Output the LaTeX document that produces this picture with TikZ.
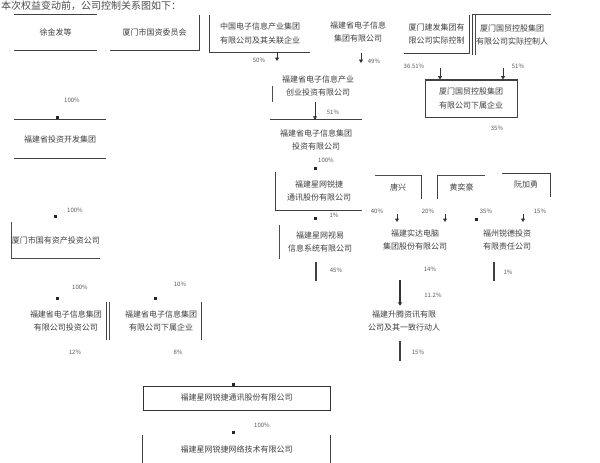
\documentclass[tikz,border=0pt]{standalone}
\usepackage{fontspec}
\newfontfamily\cjk{Noto Sans CJK SC}
\usetikzlibrary{arrows.meta}
\begin{document}
\begin{tikzpicture}[x=1pt,y=-1pt,
  txt/.style={font=\cjk\fontsize{8}{13.5}\selectfont,text=black!75,align=center,inner sep=0pt},
  box/.style={txt,minimum width=#1},
  lab/.style={font=\cjk\fontsize{6}{7}\selectfont,text=black!65,inner sep=0pt},
  edge/.style={line width=1.3pt,draw=black!75},
  thin/.style={line width=0.9pt,draw=black!70},
  arr/.style={line width=0.8pt,draw=black!80,-{Triangle[width=4pt,length=3.5pt]}},
  dot/.style={fill=black!85,inner sep=0pt,minimum size=3pt}]
\useasboundingbox[fill=white] (0,0) rectangle (600,463);
% title
\node[anchor=base west,font=\cjk\fontsize{10}{11}\selectfont,text=black!70,inner sep=0pt] (title) at (1,9.5) {本次权益变动前，公司控制关系图如下：};
% ---------------- top row
\node[box=83,minimum height=35] (b1) at (55.5,32.5) {徐金发等};
\draw[edge] (b1.north west) -- (b1.north east) (b1.south west) -- (b1.south east);
\node[box=89,minimum height=35] (b2) at (154.5,32.5) {厦门市国资委员会};
\draw[edge] (b2.south west) -- (b2.south east) -- (b2.north east);
\node[box=100,minimum height=37] (b3) at (260,33.5) {中国电子信息产业集团\\有限公司及其关联企业};
\draw[edge] (b3.north west) -- (b3.south west) -- (b3.south east);
\node[box=73,minimum height=30] (b4) at (358,32) {福建省电子信息\\集团有限公司};
\node[box=65,minimum height=38] (b5) at (436.5,34) {厦门建发集团有\\限公司实际控制};
\draw[edge] (b5.south west) -- (b5.south east) -- (b5.north east);
\node[box=78,minimum height=40] (b6) at (512,35) {厦门国贸控股集团\\有限公司实际控制人};
\draw[edge] (b6.south west) -- (b6.north west) -- (b6.north east);
\draw[thin] ([xshift=3pt]b6.south west) -- ([xshift=3pt]b6.north west);
% b7
\node[box=92,minimum height=37,draw=black!75,line width=1pt] (b7) at (471,98.5) {厦门国贸控股集团\\有限公司下属企业};
\draw[edge] (b7.north west) -- (b7.north east);
\coordinate (c71) at (440,68);
\coordinate (c72) at (503,68);
\draw[arr] (c71) -- (c71 |- b7.north);
\draw[arr] (c72) -- (c72 |- b7.north);
\node[lab] (l71) at (414,66) {36.51\%};
\node[lab] (l72) at (518,66) {51\%};
\node[lab] (l73) at (497,128) {35\%};
% ---------------- middle column
\node[box=90,minimum height=32] (bA) at (318,86) {福建省电子信息产业\\创业投资有限公司};
\draw[thin] ([yshift=-16pt]bA.north west) -- (bA.south west);
\coordinate (cA1) at (277,52);
\draw[arr] (cA1) -- ++(0,9);
\node[lab] (lA1) at (259,60) {50\%};
\coordinate (cA2) at (361,53);
\draw[arr] (cA2) -- ++(0,10);
\node[lab] (lA2) at (374,61) {49\%};
\node[box=92,minimum height=40] (bB) at (316,140) {福建省电子信息集团\\投资有限公司};
\draw[edge] (bB.north west) -- (bB.north east);
\draw[arr] (bA.south -| 315,0) -- (bB.north -| 315,0);
\node[lab] (lB) at (333,112) {51\%};
\node[box=86,minimum height=38] (bC) at (319,191) {福建星网锐捷\\通讯股份有限公司};
\draw[edge] (bC.north west) -- (bC.south west) -- (bC.south east);
\node[dot] (dC) at (315,168) {};
\node[lab] (lC) at (326,160) {100\%};
\node[box=80,minimum height=34] (bD) at (320,242) {福建星网视易\\信息系统有限公司};
\draw[thin] (bD.north west) -- (bD.south west);
\node[dot] (dD) at (315,218) {};
\node[lab] (lD) at (334,215) {1\%};
\draw[edge] (316,262) -- (316,281);
\node[lab] (lD2) at (336,270) {45\%};
% ---------------- left column
\node[box=91,minimum height=38] (bE) at (60,139) {福建省投资开发集团};
\draw[edge] (bE.north west) -- (bE.north east) (bE.south west) -- (bE.south east);
\node[dot] (dE) at (57,117) {};
\node[lab] (lE) at (72,100) {100\%};
\node[box=88,minimum height=36] (bF) at (56,240) {厦门市国有资产投资公司};
\draw[thin] (bF.north west) -- (bF.south west) -- (bF.south east);
\node[dot] (dF) at (55,216) {};
\node[lab] (lF) at (75,210) {100\%};
\node[box=80,minimum height=38] (bG) at (66,321) {福建省电子信息集团\\有限公司投资公司};
\draw[edge] (bG.north east) -- (bG.south east);
\draw[thin] ([xshift=3pt]bG.north east) -- ([xshift=3pt]bG.south east);
\node[dot] (dG) at (57,298) {};
\node[lab] (lG) at (80,287) {100\%};
\node[lab] (lG2) at (75,352) {12\%};
\node[box=80,minimum height=38] (bH) at (161,321) {福建省电子信息集团\\有限公司下属企业};
\draw[edge] (bH.north east) -- (bH.south east);
\node[dot] (dH) at (155,298) {};
\node[lab] (lH) at (180,284) {10\%};
\node[lab] (lH2) at (178,352) {8\%};
% ---------------- bottom
\node[box=187,minimum height=24,draw=black!80,line width=1pt] (bI) at (236.5,398) {福建星网锐捷通讯股份有限公司};
\node[dot] (dI) at (233,384) {};
\node[lab] (lI) at (262,425) {100\%};
\node[box=187,minimum height=28] (bJ) at (236.5,449) {福建星网锐捷网络技术有限公司};
\draw[edge] (bJ.north west) -- (bJ.south west) (bJ.north east) -- (bJ.south east);
\node[dot] (dJ) at (233,432) {};
% ---------------- right column
\node[box=46,minimum height=23] (bK) at (398,187) {唐兴};
\draw[thin] (bK.north west) -- (bK.north east);
\draw[edge] (bK.north east) -- (bK.south east);
\node[box=47,minimum height=23] (bL) at (461.5,187) {黄奕豪};
\draw[edge] (bL.south west) -- (bL.north west);
\draw[thin] (bL.north west) -- (bL.north east);
\node[box=48,minimum height=23] (bM) at (526,185) {阮加勇};
\draw[edge] (bM.north west) -- (bM.north east) -- (bM.south east);
\node[lab] (lK1) at (377,211) {40\%};
\node[lab] (lK2) at (428,211) {20\%};
\node[lab] (lK3) at (486,211) {35\%};
\node[lab] (lK4) at (540,211) {15\%};
\node[box=62,minimum height=34] (bN) at (415,240) {福建实达电脑\\集团股份有限公司};
\node[box=56,minimum height=34] (bO) at (507,240) {福州锐德投资\\有限责任公司};
\coordinate (cN1) at (397,214);
\coordinate (cN2) at (445,214);
\coordinate (cO2) at (523,214);
\draw[arr] (cN1) -- ++(0,8);
\draw[arr] (cN2) -- ++(0,8);
\node[dot] (dO1) at (476,219) {};
\draw[arr] (cO2) -- ++(0,8);
\draw[edge] (494,262) -- (494,281);
\node[lab] (lO) at (508,272) {1\%};
\node[lab] (lN) at (430,269) {14\%};
\node[box=80,minimum height=30] (bP) at (404,321) {福建升腾资讯有限\\公司及其一致行动人};
\draw[arr,line width=1.3pt] (400,280) -- (bP.north -| 400,0);
\node[lab] (lP) at (433,295) {11.2\%};
\draw[edge] (400,341) -- (400,361);
\node[lab] (lP2) at (418,352) {15\%};
\end{tikzpicture}
\end{document}
